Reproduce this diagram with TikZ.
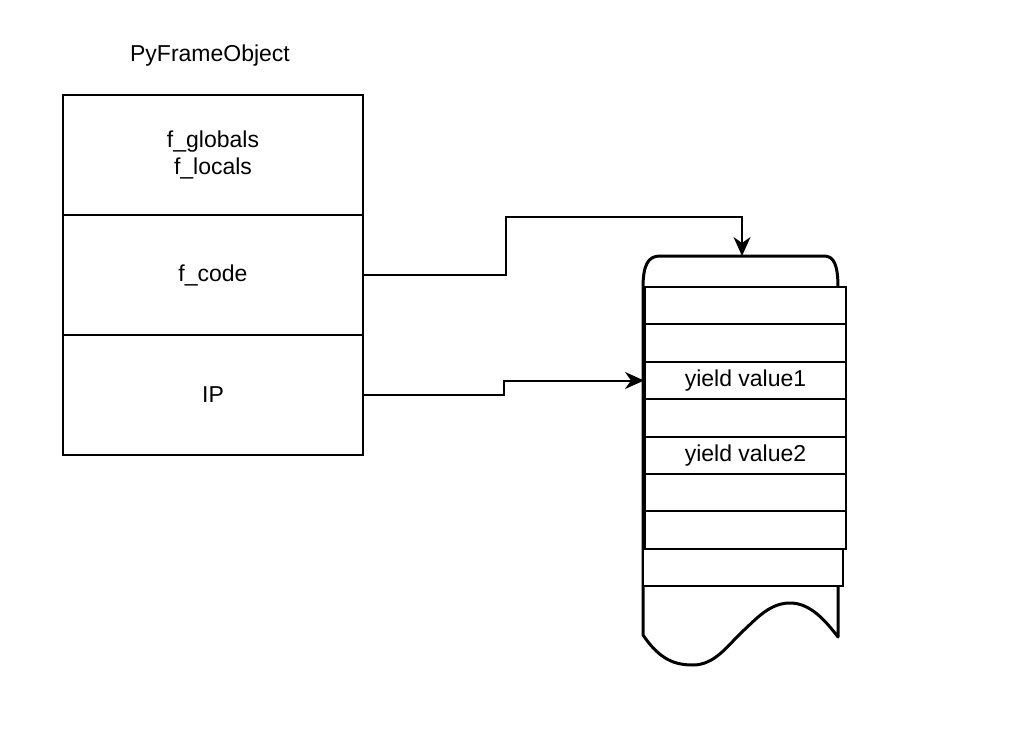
\documentclass[tikz,border=0pt]{standalone}
\usepackage{fontspec}
\setmainfont{Liberation Sans}
\usepackage{tikz}
\usetikzlibrary{arrows.meta}

\begin{document}
\begin{tikzpicture}
[x=1pt, y=-1pt, every node/.style={inner sep=0pt, font=\fontsize{23}{27}\selectfont},
 field/.style={rectangle, draw=black, line width=2pt, minimum width=300pt, minimum height=120pt, align=center},
 slot/.style={rectangle, draw=black, fill=white, line width=2pt, minimum width=201pt, minimum height=37.4pt},
 link/.style={line width=2pt, -{Stealth[length=19pt, width=17pt, inset=6pt]}}]
\useasboundingbox (0,0) rectangle (1018,742);
\node (title) at (210, 56) {PyFrameObject};
\node (globals) [field] at (213, 155) {f\_globals\\f\_locals};
\node (code) [field] at (213, 275) {f\_code};
\node (ip) [field] at (213, 395) {IP};
% tape of bytecode
\draw [line width=3pt, line join=round] (643, 635) -- (643, 288) .. controls (643, 265) and (648, 256) .. (660, 256) -- (824, 256) .. controls (834, 256) and (838, 265) .. (838, 288) -- (838, 637) .. controls (825, 620) and (810, 603) .. (790, 603) .. controls (770, 603) and (757, 618) .. (742, 632) .. controls (728, 645) and (715, 665) .. (693, 665) .. controls (675, 665) and (660, 660) .. cycle;
\coordinate (tapetop) at (742, 256);
\node (row1) [slot] at (745.5, 305.7) {};
\node (row2) [slot] at (745.5, 343.1) {};
\node (row3) [slot] at (745.5, 380.5) {yield value1};
\node (row4) [slot] at (745.5, 417.9) {};
\node (row5) [slot] at (745.5, 455.3) {yield value2};
\node (row6) [slot] at (745.5, 492.7) {};
\node (row7) [slot] at (745.5, 530.1) {};
\node (row8) [slot, minimum width=200pt] at (743, 567.5) {};
\draw [link] (code.east) -- ++(142, 0) -- ++(0, -58) -| (tapetop);
\draw [link] (ip.east) -- ++(140, 0) |- (row3.west);
\end{tikzpicture}
\end{document}
